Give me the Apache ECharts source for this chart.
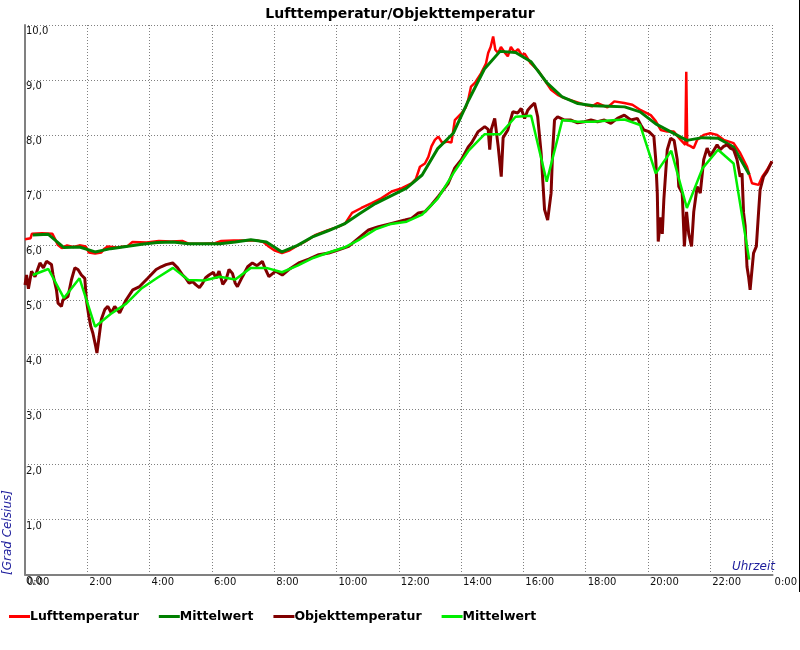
<!DOCTYPE html>
<html>
<head>
<meta charset="utf-8">
<script src="https://cdn.jsdelivr.net/npm/echarts@6/dist/echarts.min.js"></script>
<style>
html,body{margin:0;padding:0;background:#fff;}
#chart{width:800px;height:650px;}
</style>
</head>
<body>
<div id="chart"></div>
<script>
// ---- data (time in hours, value in °C) ----
var lufttemperatur = [[0.00,6.10],[0.18,6.12],[0.22,6.20],[0.55,6.21],[0.88,6.20],[0.97,6.10],[1.05,6.00],[1.18,5.94],[1.35,5.99],[1.55,5.96],[1.75,5.99],[1.95,5.97],[2.05,5.86],[2.25,5.84],[2.45,5.86],[2.55,5.93],[2.65,5.97],[2.95,5.95],[3.30,5.98],[3.45,6.05],[3.90,6.04],[4.30,6.07],[4.70,6.06],[5.05,6.07],[5.25,6.02],[5.70,6.02],[6.10,6.03],[6.30,6.07],[6.70,6.08],[7.10,6.08],[7.45,6.08],[7.65,6.05],[7.80,5.98],[8.00,5.90],[8.25,5.85],[8.50,5.90],[8.70,5.97],[9.00,6.06],[9.33,6.18],[9.75,6.27],[10.07,6.33],[10.28,6.39],[10.50,6.58],[10.80,6.67],[11.13,6.76],[11.45,6.85],[11.77,6.97],[12.10,7.03],[12.41,7.12],[12.55,7.20],[12.68,7.42],[12.84,7.48],[12.95,7.60],[13.05,7.79],[13.16,7.91],[13.27,7.97],[13.40,7.85],[13.55,7.88],[13.69,7.86],[13.80,8.27],[14.01,8.39],[14.15,8.50],[14.23,8.64],[14.32,8.88],[14.45,8.95],[14.64,9.12],[14.80,9.30],[14.87,9.49],[14.95,9.60],[15.03,9.79],[15.10,9.55],[15.19,9.49],[15.28,9.60],[15.40,9.50],[15.50,9.43],[15.60,9.60],[15.72,9.50],[15.83,9.56],[15.95,9.45],[16.04,9.48],[16.24,9.30],[16.46,9.18],[16.68,9.00],[16.89,8.82],[17.10,8.73],[17.32,8.67],[17.64,8.61],[17.96,8.55],[18.20,8.52],[18.38,8.58],[18.70,8.50],[18.92,8.61],[19.24,8.58],[19.50,8.55],[19.77,8.45],[20.09,8.36],[20.25,8.25],[20.41,8.09],[20.62,8.06],[20.83,8.06],[21.05,7.91],[21.20,7.82],[21.23,9.15],[21.26,7.82],[21.35,7.80],[21.47,7.76],[21.58,7.91],[21.79,8.00],[22.00,8.03],[22.22,8.00],[22.43,7.91],[22.75,7.85],[22.96,7.67],[23.18,7.42],[23.34,7.12],[23.55,7.09],[23.67,7.24],[23.82,7.36],[23.98,7.52]];

var objekttemperatur = [[0.00,5.27],[0.05,5.45],[0.11,5.20],[0.21,5.52],[0.32,5.42],[0.48,5.67],[0.59,5.58],[0.69,5.70],[0.85,5.64],[0.90,5.45],[1.01,5.18],[1.06,4.94],[1.17,4.88],[1.22,5.00],[1.38,5.06],[1.49,5.36],[1.60,5.58],[1.70,5.55],[1.81,5.45],[1.92,5.39],[1.97,5.00],[2.05,4.70],[2.11,4.52],[2.18,4.39],[2.27,4.15],[2.31,4.03],[2.38,4.33],[2.45,4.64],[2.56,4.82],[2.66,4.88],[2.77,4.76],[2.88,4.88],[3.04,4.76],[3.14,4.88],[3.25,5.00],[3.46,5.18],[3.68,5.24],[3.94,5.39],[4.21,5.55],[4.37,5.60],[4.53,5.64],[4.74,5.67],[4.90,5.58],[5.06,5.45],[5.15,5.40],[5.27,5.30],[5.38,5.33],[5.49,5.27],[5.60,5.22],[5.70,5.30],[5.80,5.40],[5.91,5.45],[6.05,5.50],[6.13,5.39],[6.23,5.52],[6.35,5.28],[6.45,5.36],[6.55,5.55],[6.66,5.48],[6.75,5.30],[6.82,5.24],[6.98,5.42],[7.15,5.60],[7.30,5.67],[7.45,5.62],[7.62,5.70],[7.70,5.58],[7.83,5.42],[8.05,5.52],[8.26,5.45],[8.47,5.55],[8.79,5.67],[9.11,5.74],[9.43,5.82],[9.75,5.85],[10.07,5.91],[10.39,5.97],[10.71,6.12],[11.03,6.27],[11.35,6.33],[11.77,6.39],[12.20,6.45],[12.41,6.48],[12.63,6.58],[12.84,6.60],[13.05,6.73],[13.27,6.88],[13.43,7.00],[13.59,7.12],[13.80,7.40],[14.01,7.55],[14.23,7.78],[14.33,7.85],[14.55,8.06],[14.76,8.15],[14.87,8.10],[14.92,7.73],[14.97,8.10],[15.08,8.30],[15.19,7.80],[15.29,7.24],[15.35,7.95],[15.50,8.09],[15.66,8.42],[15.82,8.40],[15.93,8.48],[16.04,8.30],[16.14,8.45],[16.25,8.52],[16.36,8.58],[16.46,8.33],[16.57,7.67],[16.68,6.64],[16.78,6.45],[16.84,6.42],[16.89,6.94],[16.94,7.70],[17.00,8.27],[17.10,8.33],[17.32,8.27],[17.53,8.27],[17.74,8.22],[17.96,8.24],[18.17,8.27],[18.38,8.24],[18.60,8.27],[18.81,8.21],[19.02,8.30],[19.24,8.36],[19.45,8.27],[19.66,8.30],[19.77,8.18],[19.87,8.09],[20.03,8.06],[20.19,7.97],[20.25,7.55],[20.30,6.94],[20.33,6.06],[20.41,6.50],[20.46,6.20],[20.51,6.82],[20.62,7.73],[20.73,7.94],[20.84,7.90],[20.94,7.55],[20.99,7.06],[21.10,6.94],[21.17,5.97],[21.24,6.60],[21.31,6.20],[21.40,5.97],[21.47,6.60],[21.58,7.06],[21.68,6.94],[21.79,7.55],[21.90,7.76],[22.00,7.61],[22.22,7.82],[22.32,7.73],[22.43,7.79],[22.54,7.82],[22.64,7.76],[22.75,7.73],[22.86,7.55],[22.96,7.24],[23.02,7.30],[23.07,6.58],[23.12,6.35],[23.18,5.60],[23.23,5.42],[23.28,5.18],[23.34,5.20],[23.39,5.85],[23.48,5.97],[23.55,6.58],[23.60,7.00],[23.71,7.24],[23.82,7.33],[23.98,7.52]];

// half-hourly means
var mittelZeiten = [0.25,0.75,1.25,1.75,2.25,2.75,3.25,3.75,4.25,4.75,5.25,5.75,6.25,6.75,7.25,7.75,8.25,8.75,9.25,9.75,10.25,10.75,11.25,11.75,12.25,12.75,13.25,13.75,14.25,14.75,15.25,15.75,16.25,16.75,17.25,17.75,18.25,18.75,19.25,19.75,20.25,20.75,21.25,21.75,22.25,22.75,23.25];
var mittelLuft = [6.18,6.19,5.95,5.96,5.87,5.93,5.97,6.01,6.04,6.05,6.02,6.02,6.02,6.05,6.09,6.05,5.87,5.99,6.15,6.26,6.38,6.57,6.75,6.89,7.03,7.27,7.75,8.03,8.64,9.20,9.52,9.50,9.33,8.95,8.69,8.57,8.53,8.52,8.51,8.42,8.20,8.05,7.90,7.95,7.94,7.78,7.28];
var mittelObjekt = [5.45,5.56,5.03,5.39,4.51,4.74,4.93,5.21,5.40,5.58,5.36,5.35,5.42,5.37,5.58,5.58,5.50,5.62,5.76,5.86,5.95,6.10,6.28,6.38,6.42,6.55,6.84,7.30,7.72,8.01,8.01,8.33,8.35,7.15,8.27,8.24,8.24,8.26,8.28,8.18,7.30,7.71,6.67,7.39,7.73,7.48,5.73];

var seriesNames = ['Lufttemperatur','Mittelwert','Objekttemperatur','Mittelwert'];
var seriesColors = ['#ff0000','#008000','#800000','#00ee00'];

function pairs(xs, ys){ return xs.map(function(x,i){ return [x, ys[i]]; }); }

var chart = echarts.init(document.getElementById('chart'), null, {renderer:'canvas'});
var FONT = 'DejaVu Sans';
var ids = ['s0','s1','s2','s3'];
var datas = [lufttemperatur, pairs(mittelZeiten, mittelLuft), objekttemperatur, pairs(mittelZeiten, mittelObjekt)];
var widths = [2.5, 3, 3, 2.5];

chart.setOption({
  animation: false,
  backgroundColor: '#ffffff',
  title: {
    text: 'Lufttemperatur/Objekttemperatur',
    left: 'center', top: 2,
    textStyle: {fontFamily: FONT, fontWeight: 'bold', fontSize: 14, color: '#000'}
  },
  legend: {
    left: 4, top: 605,
    itemWidth: 21, itemHeight: 3, itemGap: 20,
    icon: 'rect',
    data: ids,
    formatter: function(n){ return seriesNames[ids.indexOf(n)]; },
    textStyle: {fontFamily: FONT, fontWeight: 'bold', fontSize: 12.5, color: '#000', padding: [0,0,0,-5]}
  },
  grid: {left: 25, right: 24, top: 25, bottom: 75.5, containLabel: false},
  xAxis: {
    type: 'value', min: 0, max: 24, interval: 2,
    axisLine: {show: true, onZero: false, lineStyle: {color: '#808080', width: 2}},
    axisTick: {show: false},
    axisLabel: {
      fontFamily: FONT, fontSize: 10, color: '#111', align: 'left', margin: 3,
      padding: [0,0,0,2], showMaxLabel: true,
      formatter: function(v){ return (v % 24) + ':00'; }
    },
    splitLine: {show: true, lineStyle: {color: '#808080', width: 1, type: [1,2]}}
  },
  yAxis: {
    type: 'value', min: 0, max: 10, interval: 1,
    axisLine: {show: true, onZero: false, lineStyle: {color: '#808080', width: 2}},
    axisTick: {show: false},
    axisLabel: {
      inside: true, margin: 1, fontFamily: FONT, fontSize: 10, color: '#111',
      verticalAlign: 'top', lineHeight: 13,
      formatter: function(v){ return v.toFixed(1).replace('.', ','); }
    },
    splitLine: {show: true, lineStyle: {color: '#808080', width: 1, type: [1,2]}}
  },
  graphic: [
    {type: 'text', x: 8, y: 575, rotation: Math.PI/2,
     style: {text: '[Grad Celsius]', fill: '#1c1c9c', font: 'italic 12px "DejaVu Sans"', textAlign: 'left', textVerticalAlign: 'middle'}},
    {type: 'text', x: 775, y: 567,
     style: {text: 'Uhrzeit', fill: '#1c1c9c', font: 'italic 12px "DejaVu Sans"', textAlign: 'right', textVerticalAlign: 'middle'}},
    {type: 'line', shape: {x1: 799.5, y1: 0, x2: 799.5, y2: 592}, style: {stroke: '#000', lineWidth: 1}}
  ],
  series: ids.map(function(id, i){
    return {
      name: id, type: 'line', data: datas[i], showSymbol: false, symbol: 'none',
      color: seriesColors[i],
      lineStyle: {color: seriesColors[i], width: widths[i]},
      z: 2 + i
    };
  })
});
</script>
</body>
</html>
